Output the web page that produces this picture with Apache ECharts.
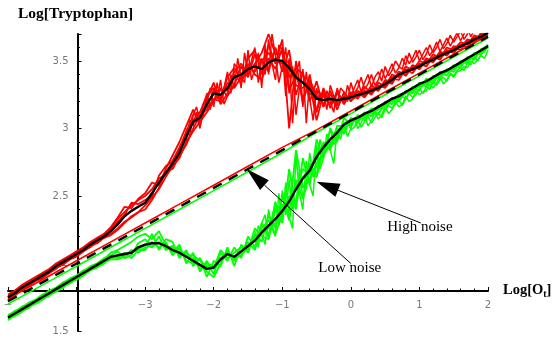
<!DOCTYPE html>
<html>
<head>
<meta charset="utf-8">
<script src="https://cdn.jsdelivr.net/npm/echarts@6/dist/echarts.min.js"></script>
<style>
  html, body { margin: 0; padding: 0; background: #fff; }
  #chart { width: 557px; height: 342px; }
</style>
</head>
<body>
<div id="chart"></div>
<script>
// shared x grid, Log[O_t]
const xs = [-5,-4.9,-4.8,-4.7,-4.6,-4.5,-4.4,-4.3,-4.2,-4.1,-4,-3.9,-3.8,-3.7,-3.6,-3.5,-3.4,-3.3,-3.2,-3.1,
  -3,-2.9,-2.8,-2.7,-2.6,-2.5,-2.4,-2.3,-2.2,-2.1,-2,-1.9,-1.8,-1.7,-1.6,-1.5,-1.4,-1.3,-1.2,-1.1,
  -1,-0.9,-0.8,-0.7,-0.6,-0.5,-0.4,-0.3,-0.2,-0.1,0,0.1,0.2,0.3,0.4,0.5,0.6,0.7,0.8,0.9,
  1,1.1,1.2,1.3,1.4,1.5,1.6,1.7,1.8,1.9,2];

// high noise, red runs
const red1 = [1.76,1.79,1.83,1.86,1.88,1.92,1.95,1.99,2.02,2.05,2.08,2.11,2.15,2.18,2.21,
  2.26,2.33,2.38,2.43,2.47,2.50,2.55,2.63,2.66,2.76,2.86,
  2.97,3.10,3.12,3.25,3.30,3.22,3.38,3.45,3.36,3.52,3.58,3.40,3.62,3.48,
  3.66,3.00,3.50,3.18,3.40,3.12,3.30,3.15,3.28,3.18,
  3.27,3.22,3.31,3.26,3.34,3.31,3.40,3.38,3.46,3.43,3.50,3.48,3.55,3.52,3.60,3.58,3.64,3.62,3.69,3.67,3.73];
const red2 = [1.73,1.77,1.80,1.84,1.87,1.90,1.93,1.96,2.00,2.03,2.06,2.09,2.12,2.16,2.19,
  2.21,2.25,2.30,2.35,2.38,2.43,2.49,2.55,2.64,2.72,2.78,
  2.90,2.98,3.05,3.12,3.20,3.30,3.24,3.32,3.46,3.38,3.55,3.50,3.42,3.60,
  3.42,3.58,3.25,3.42,3.20,3.35,3.16,3.28,3.14,3.27,
  3.20,3.28,3.24,3.32,3.28,3.36,3.34,3.42,3.40,3.47,3.45,3.52,3.50,3.57,3.55,3.61,3.60,3.66,3.64,3.71,3.70];
const red3 = [1.77,1.80,1.84,1.87,1.90,1.93,1.96,2.00,2.03,2.06,2.09,2.12,2.16,2.19,2.22,
  2.27,2.34,2.42,2.41,2.48,2.52,2.60,2.58,2.70,2.80,2.90,
  3.02,3.14,3.02,3.22,3.34,3.18,3.26,3.42,3.48,3.40,3.48,3.56,3.70,3.55,
  3.56,3.38,3.45,3.40,3.25,3.28,3.24,3.18,3.26,3.20,
  3.25,3.27,3.23,3.30,3.28,3.35,3.33,3.42,3.39,3.46,3.44,3.51,3.49,3.56,3.54,3.60,3.58,3.65,3.63,3.70,3.69];
const red4 = [1.74,1.76,1.81,1.83,1.87,1.89,1.93,1.97,1.99,2.03,2.05,2.09,2.13,2.15,2.19,
  2.22,2.26,2.31,2.34,2.38,2.40,2.47,2.56,2.68,2.70,2.80,
  2.88,3.00,3.10,3.14,3.22,3.20,3.34,3.30,3.38,3.48,3.40,3.36,3.52,3.44,
  3.60,3.28,3.40,3.22,3.34,3.06,3.26,3.22,3.17,3.24,
  3.21,3.24,3.28,3.25,3.32,3.30,3.37,3.36,3.44,3.41,3.48,3.46,3.53,3.51,3.58,3.56,3.62,3.60,3.67,3.66,3.72];
const red5 = [1.75,1.79,1.82,1.86,1.89,1.92,1.94,1.98,2.02,2.04,2.08,2.10,2.14,2.18,2.20,
  2.25,2.31,2.36,2.45,2.44,2.47,2.50,2.65,2.72,2.76,2.84,
  2.98,3.06,3.12,3.16,3.28,3.28,3.28,3.40,3.34,3.46,3.42,3.50,3.56,3.50,
  3.48,3.50,3.32,3.30,3.36,3.24,3.18,3.25,3.20,3.22,
  3.24,3.23,3.27,3.29,3.31,3.34,3.38,3.39,3.43,3.45,3.47,3.50,3.52,3.55,3.57,3.59,3.62,3.64,3.67,3.69,3.73];

// two more red runs, sampled finer where the noise is strongest
const redFineXs = [-2.4,-2.35,-2.3,-2.25,-2.2,-2.15,-2.1,-2.05,-2,-1.95,
  -1.9,-1.85,-1.8,-1.75,-1.7,-1.65,-1.6,-1.55,-1.5,-1.45,
  -1.4,-1.35,-1.3,-1.25,-1.2,-1.15,-1.1,-1.05,-1,-0.95,
  -0.9,-0.85,-0.8,-0.75,-0.7,-0.65,-0.6,-0.55,-0.5,-0.45,
  -0.4,-0.35,-0.3,-0.25,-0.2,-0.15,-0.1,-0.05,0,0.05,
  0.1,0.15,0.2,0.25,0.3,0.35,0.4,0.45,0.5,0.55,
  0.6,0.65,0.7,0.75,0.8,0.85,0.9,0.95,1,1.05,
  1.1,1.15,1.2,1.25,1.3,1.35,1.4,1.45,1.5,1.55,
  1.6,1.65,1.7,1.75,1.8,1.85,1.9,1.95,2];
const redFine1 = [2.90,3.06,3.02,3.12,3.00,3.18,3.20,3.30,3.16,3.34,
  3.20,3.30,3.42,3.26,3.48,3.44,3.30,3.56,3.40,3.50,
  3.60,3.34,3.52,3.40,3.66,3.48,3.36,3.62,3.58,3.24,
  3.52,3.04,3.40,3.50,3.16,3.42,3.22,3.06,3.30,3.18,
  3.28,3.14,3.32,3.24,3.18,3.30,3.27,3.20,3.34,3.26,
  3.30,3.38,3.29,3.33,3.40,3.32,3.36,3.44,3.37,3.42,
  3.48,3.41,3.45,3.52,3.47,3.56,3.49,3.53,3.58,3.51,
  3.55,3.62,3.56,3.60,3.66,3.59,3.63,3.69,3.64,3.68,
  3.72,3.66,3.70,3.75,3.71,3.74,3.78,3.73,3.76];
const redFine2 = [3.00,2.94,3.10,3.16,3.04,3.10,3.26,3.14,3.30,3.22,
  3.36,3.18,3.24,3.40,3.30,3.52,3.38,3.34,3.58,3.36,
  3.44,3.56,3.30,3.62,3.40,3.70,3.54,3.34,3.46,3.60,
  3.26,3.46,3.10,3.30,3.44,3.04,3.36,3.28,3.12,3.26,
  3.16,3.28,3.20,3.12,3.30,3.22,3.18,3.32,3.24,3.30,
  3.36,3.27,3.34,3.40,3.31,3.38,3.42,3.35,3.46,3.39,
  3.43,3.50,3.46,3.44,3.54,3.48,3.52,3.58,3.50,3.55,
  3.60,3.54,3.58,3.64,3.57,3.62,3.67,3.61,3.66,3.71,
  3.65,3.70,3.74,3.68,3.73,3.77,3.72,3.75,3.79];

// high noise, green runs
const green1 = [1.62,1.64,1.68,1.70,1.73,1.77,1.79,1.82,1.86,1.88,1.91,1.94,1.98,2.00,2.03,
  2.08,2.10,2.13,2.16,2.20,2.22,2.18,2.24,2.14,2.08,2.14,
  2.00,2.08,1.94,2.02,1.92,2.08,2.02,2.12,2.04,2.20,2.12,2.30,2.20,2.45,
  2.30,2.70,2.40,2.78,2.58,2.92,2.78,3.00,2.90,3.08,
  3.02,3.10,3.06,3.15,3.10,3.20,3.18,3.25,3.22,3.31,3.28,3.37,3.33,3.42,3.39,3.47,3.45,3.53,3.51,3.59,3.60];
const green2 = [1.58,1.62,1.65,1.67,1.71,1.74,1.76,1.80,1.83,1.85,1.89,1.92,1.95,1.98,2.01,
  2.03,2.03,2.05,2.10,2.08,2.12,2.22,2.10,2.18,2.16,2.04,
  2.10,1.98,2.04,1.90,2.02,1.98,2.12,1.98,2.14,2.08,2.22,2.16,2.36,2.26,
  2.50,2.32,2.62,2.48,2.74,2.66,2.90,2.84,3.00,2.96,
  3.08,3.04,3.12,3.09,3.17,3.14,3.23,3.20,3.28,3.26,3.34,3.31,3.39,3.37,3.44,3.42,3.50,3.48,3.56,3.55,3.62];
const green3 = [1.61,1.65,1.67,1.71,1.73,1.76,1.80,1.82,1.85,1.89,1.91,1.95,1.97,2.00,2.04,
  2.06,2.09,2.04,2.06,2.15,2.18,2.12,2.20,2.10,2.12,2.10,
  2.06,2.06,2.02,1.98,1.96,2.10,2.04,2.08,2.12,2.10,2.26,2.20,2.18,2.40,
  2.44,2.38,2.84,2.56,2.62,2.74,2.80,2.88,2.94,3.00,
  3.04,3.07,3.08,3.12,3.14,3.18,3.20,3.23,3.26,3.29,3.31,3.34,3.36,3.40,3.42,3.45,3.47,3.51,3.53,3.57,3.60];
const green4 = [1.59,1.61,1.64,1.68,1.70,1.73,1.77,1.79,1.82,1.86,1.88,1.91,1.95,1.97,2.00,
  2.04,2.05,2.08,2.04,2.10,2.10,2.16,2.12,2.16,2.06,2.12,
  2.02,2.00,2.04,1.94,1.90,2.00,2.10,2.02,2.08,2.16,2.10,2.26,2.32,2.22,
  2.36,2.50,2.46,2.64,2.70,2.64,2.84,2.90,2.92,3.04,
  3.05,3.06,3.10,3.11,3.15,3.17,3.21,3.22,3.26,3.28,3.32,3.33,3.37,3.39,3.42,3.44,3.48,3.50,3.54,3.56,3.61];
const green5 = [1.60,1.64,1.66,1.69,1.73,1.75,1.78,1.81,1.84,1.87,1.90,1.93,1.96,2.00,2.02,
  2.05,2.04,2.06,2.09,2.10,2.14,2.12,2.16,2.11,2.13,2.06,
  2.08,2.04,1.96,2.00,1.98,2.04,2.08,2.04,2.06,2.12,2.20,2.24,2.26,2.30,
  2.42,2.44,2.56,2.70,2.66,2.82,2.88,2.86,3.02,3.02,
  3.07,3.08,3.11,3.14,3.16,3.19,3.21,3.25,3.27,3.30,3.33,3.35,3.38,3.41,3.43,3.46,3.49,3.52,3.55,3.58,3.62];

// two more green runs, sampled finer
const greenFineXs = [-1.4,-1.35,-1.3,-1.25,-1.2,-1.15,-1.1,-1.05,-1,-0.95,
  -0.9,-0.85,-0.8,-0.75,-0.7,-0.65,-0.6,-0.55,-0.5,-0.45,
  -0.4,-0.35,-0.3,-0.25,-0.2,-0.15,-0.1,-0.05,0,0.05,
  0.1,0.15,0.2,0.25,0.3,0.35,0.4,0.45,0.5,0.55,
  0.6,0.65,0.7,0.75,0.8,0.85,0.9,0.95,1,1.05,
  1.1,1.15,1.2,1.25,1.3,1.35,1.4,1.45,1.5,1.55,
  1.6,1.65,1.7,1.75,1.8,1.85,1.9,1.95,2];
const greenFine1 = [2.10,2.28,2.22,2.14,2.40,2.26,2.20,2.52,2.30,2.60,
  2.34,2.26,2.80,2.52,2.40,2.76,2.58,2.50,2.88,2.70,
  2.78,2.96,2.84,2.74,2.98,2.92,3.04,2.94,3.00,3.08,
  3.00,3.04,3.10,3.02,3.06,3.12,3.07,3.10,3.16,3.11,
  3.14,3.20,3.16,3.18,3.24,3.20,3.22,3.28,3.25,3.27,
  3.28,3.33,3.30,3.34,3.38,3.33,3.36,3.40,3.38,3.42,
  3.43,3.46,3.45,3.50,3.48,3.51,3.54,3.52,3.58];
const greenFine2 = [2.24,2.12,2.30,2.36,2.18,2.34,2.46,2.28,2.54,2.36,
  2.62,2.40,2.44,2.70,2.48,2.56,2.82,2.64,2.72,2.92,
  2.80,2.86,3.00,2.88,2.92,3.02,2.96,3.06,2.99,3.01,
  3.06,3.01,3.05,3.09,3.04,3.08,3.12,3.08,3.14,3.17,
  3.15,3.18,3.21,3.17,3.22,3.26,3.23,3.25,3.30,3.26,
  3.31,3.29,3.35,3.32,3.36,3.38,3.35,3.41,3.39,3.43,
  3.45,3.43,3.49,3.47,3.53,3.50,3.55,3.57,3.60];

// averages of the high noise runs
const redMean = [1.75,1.78,1.82,1.85,1.88,1.91,1.94,1.98,2.01,2.04,2.07,2.10,2.14,2.17,2.20,
  2.24,2.29,2.35,2.39,2.42,2.45,2.52,2.60,2.67,2.74,2.82,
  2.94,3.05,3.08,3.18,3.26,3.25,3.30,3.38,3.40,3.44,3.46,3.44,3.49,3.51,
  3.50,3.45,3.38,3.34,3.29,3.22,3.21,3.22,3.21,3.22,
  3.23,3.25,3.26,3.28,3.30,3.33,3.36,3.40,3.42,3.44,3.46,3.49,3.51,3.54,3.56,3.58,3.61,3.63,3.66,3.68,3.71];
const greenMean = [1.60,1.63,1.66,1.69,1.72,1.75,1.78,1.81,1.84,1.87,1.90,1.93,1.96,1.99,2.02,
  2.05,2.06,2.07,2.08,2.12,2.14,2.15,2.15,2.13,2.10,2.08,
  2.05,2.02,1.99,1.96,1.97,2.03,2.07,2.05,2.09,2.13,2.17,2.23,2.28,2.33,
  2.39,2.46,2.55,2.63,2.69,2.79,2.86,2.92,2.97,3.03,
  3.06,3.08,3.11,3.13,3.16,3.19,3.22,3.24,3.27,3.30,3.33,3.35,3.38,3.41,3.43,3.46,3.49,3.52,3.55,3.58,3.61];

// low noise runs and the noise-free curve
const lowXs = [-5,-4.5,-4,-3.5,-3,-2.5,-2,-1.5,-1,-0.5,0,0.5,1,1.5,2];
const lowRed = [1.74,1.88,2.02,2.16,2.30,2.44,2.58,2.72,2.86,2.99,3.13,3.27,3.41,3.55,3.69];
const lowGreen = [1.70,1.84,1.98,2.12,2.26,2.40,2.54,2.68,2.82,2.97,3.11,3.25,3.39,3.53,3.67];
const deterministic = [1.72,1.86,2.00,2.14,2.28,2.42,2.56,2.70,2.84,2.98,3.12,3.26,3.40,3.54,3.68];

// annotations: [tip, tail] in data units, label anchors
const lowNoiseArrow = [[-1.52, 2.70], [0.0, 2.0]];
const highNoiseArrow = [[-0.50, 2.605], [1.02, 2.30]];
const lowNoiseLabel = [-0.015, 1.967];
const highNoiseLabel = [1.007, 2.27];

const pairs = (x, y) => x.map((v, i) => [v, y[i]]);

function trace(data, color, width, dash) {
  return {
    type: "line",
    data: data,
    symbol: "none",
    silent: true,
    animation: false,
    lineStyle: { color: color, width: width, type: dash || "solid" },
  };
}

const chart = echarts.init(document.getElementById("chart"));
chart.setOption({
  backgroundColor: "#fff",
  animation: false,
  grid: { left: 8, right: 69, top: 34, bottom: 11, outerBoundsMode: "none" },
  xAxis: {
    type: "value",
    min: -5,
    max: 2,
    interval: 1,
    position: "bottom",
    offset: -40,
    axisLine: { onZero: false, lineStyle: { color: "#000", width: 2 } },
    axisTick: { inside: true, length: 4, lineStyle: { color: "#000", width: 1 } },
    minorTick: { show: true, splitNumber: 5, length: 2.5, lineStyle: { color: "#000" } },
    splitLine: { show: false },
    axisLabel: {
      color: "#777",
      fontSize: 10,
      fontFamily: "DejaVu Sans",
      margin: 9,
      formatter: (v) => (v === -4 ? "" : v === -5 ? "\u2212" : String(v).replace("-", "\u2212")),
    },
  },
  yAxis: {
    type: "value",
    min: 1.5,
    max: 3.7,
    interval: 0.5,
    position: "left",
    offset: -69.5,
    axisLine: { onZero: false, lineStyle: { color: "#000", width: 2 } },
    axisTick: { inside: true, length: 4, lineStyle: { color: "#000", width: 1 } },
    minorTick: { show: true, splitNumber: 5, length: 2.5, lineStyle: { color: "#000" } },
    splitLine: { show: false },
    axisLabel: {
      color: "#777",
      fontSize: 10,
      fontFamily: "DejaVu Sans",
      margin: 9,
      showMaxLabel: false,
    },
  },
  series: [
    trace(pairs(xs, red1), "#ff0000", 1.8),
    trace(pairs(xs, red2), "#ff0000", 1.8),
    trace(pairs(xs, red3), "#ff0000", 1.8),
    trace(pairs(xs, red4), "#ff0000", 1.8),
    trace(pairs(xs, red5), "#ff0000", 1.8),
    trace(pairs(redFineXs, redFine1), "#ff0000", 1.5),
    trace(pairs(redFineXs, redFine2), "#ff0000", 1.5),
    trace(pairs(xs, green1), "#00ff00", 1.8),
    trace(pairs(xs, green2), "#00ff00", 1.8),
    trace(pairs(xs, green3), "#00ff00", 1.8),
    trace(pairs(xs, green4), "#00ff00", 1.8),
    trace(pairs(xs, green5), "#00ff00", 1.8),
    trace(pairs(greenFineXs, greenFine1), "#00ff00", 1.5),
    trace(pairs(greenFineXs, greenFine2), "#00ff00", 1.5),
    trace(pairs(lowXs, lowRed), "#ff0000", 1.6),
    trace(pairs(lowXs, lowGreen), "#00ff00", 1.6),
    trace(pairs(lowXs, deterministic), "#000", 2.4, [10, 8]),
    trace(pairs(xs, redMean), "#000", 2.4),
    trace(pairs(xs, greenMean), "#000", 2.4),
  ],
});

function arrow(tipData, tailData, headLen, headHalf) {
  const t = chart.convertToPixel({ gridIndex: 0 }, tipData);
  const s = chart.convertToPixel({ gridIndex: 0 }, tailData);
  const dx = s[0] - t[0];
  const dy = s[1] - t[1];
  const len = Math.hypot(dx, dy);
  const ux = dx / len;
  const uy = dy / len;
  const bx = t[0] + ux * headLen;
  const by = t[1] + uy * headLen;
  return [
    { type: "line", z: 100, silent: true,
      shape: { x1: bx, y1: by, x2: s[0], y2: s[1] },
      style: { stroke: "#000", lineWidth: 1 } },
    { type: "polygon", z: 100, silent: true,
      shape: { points: [t, [bx - uy * headHalf, by + ux * headHalf], [bx + uy * headHalf, by - ux * headHalf]] },
      style: { fill: "#000" } },
  ];
}

function label(text, at) {
  const p = chart.convertToPixel({ gridIndex: 0 }, at);
  return { type: "text", z: 100, silent: true, x: p[0], y: p[1],
    style: { text: text, fill: "#000", font: '15px "Liberation Serif"', align: "center", verticalAlign: "middle" } };
}

chart.setOption({
  graphic: [
    ...arrow(lowNoiseArrow[0], lowNoiseArrow[1], 24, 6.5),
    ...arrow(highNoiseArrow[0], highNoiseArrow[1], 23, 7),
    label("Low noise", lowNoiseLabel),
    label("High noise", highNoiseLabel),
    { type: "text", z: 100, silent: true, x: 18, y: 14,
      style: { text: "Log[Tryptophan]", fill: "#000", font: 'bold 15.5px "Liberation Serif"', verticalAlign: "middle" } },
    { type: "text", z: 100, silent: true, x: 503, y: 290,
      style: {
        text: "{a|Log[O}{s|t}{a|]}",
        verticalAlign: "middle",
        rich: {
          a: { fill: "#000", font: 'bold 14.5px "Liberation Serif"', lineHeight: 18, verticalAlign: "middle" },
          s: { fill: "#000", font: 'bold 10px "Liberation Serif"', lineHeight: 18, verticalAlign: "bottom" },
        },
      } },
  ],
});
</script>
</body>
</html>
